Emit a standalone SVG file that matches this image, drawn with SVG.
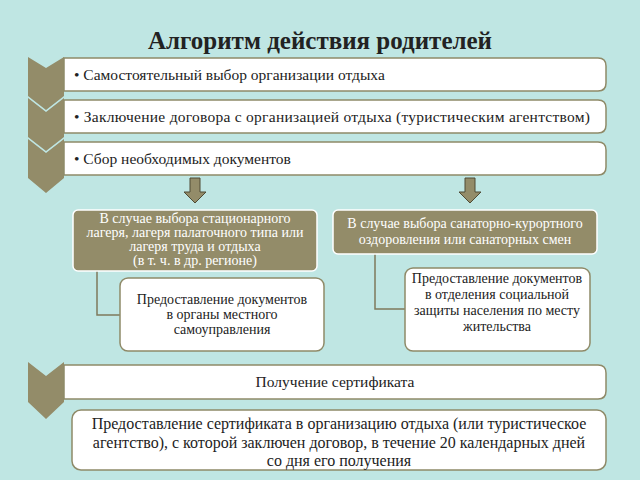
<svg xmlns="http://www.w3.org/2000/svg" width="640" height="480" viewBox="0 0 640 480" font-family="Liberation Serif, Tinos, DejaVu Serif, serif">
<defs>
<style>
text{font-family:"Liberation Serif",Tinos,"DejaVu Serif",serif}
.t{fill:#222}
.w{fill:#fff;font-size:14px;text-anchor:middle}
.box{fill:#fff;stroke:#8f8a68;stroke-width:1.5}
.ol{fill:#938c69;stroke:#fff;stroke-width:1.5}
.chev{fill:#938c69}
.arr{fill:#938c69;stroke:#4f4b35;stroke-width:1}
</style>
</defs>
<rect width="640" height="480" fill="#bfe6e3"/>
<text class="t" x="320" y="49" font-size="25" font-weight="bold" text-anchor="middle">Алгоритм действия родителей</text>
<g id="chevrons">
<polygon class="chev" points="28,57 46,68 64,57 64,96 46,110 28,96"/>
<polygon class="chev" points="28,98 46,112 64,98 64,137 46,151 28,137"/>
<polygon class="chev" points="28,139 46,153 64,139 64,178 46,193 28,178"/>
<polygon class="chev" points="28,362 46,376 64,362 64,402 46,419 28,402"/>
</g>
<g id="step1"><path class="box" d="M64,58 H598 Q606,58 606,66 V83 Q606,91 598,91 H64 Z"/>
<text class="t" x="74" y="80" font-size="15.5">• Самостоятельный выбор организации отдыха</text></g>
<g id="step2"><path class="box" d="M64,100 H598 Q606,100 606,108 V125 Q606,133 598,133 H64 Z"/>
<text class="t" x="74" y="122" font-size="15.5" textLength="516" lengthAdjust="spacing">• Заключение договора с организацией отдыха (туристическим агентством)</text></g>
<g id="step3"><path class="box" d="M64,142 H598 Q606,142 606,150 V167 Q606,175 598,175 H64 Z"/>
<text class="t" x="74" y="164" font-size="15.5">• Сбор необходимых документов</text></g>
<g id="arrows">
<polygon class="arr" points="190,178 200,178 200,192 206,192 195,203 184,192 190,192"/>
<polygon class="arr" points="465,178 475,178 475,192 481,192 470,203 459,192 465,192"/>
</g>
<g id="connectors" fill="none" stroke="#7f7a5c" stroke-width="1.5">
<polyline points="97,270 97,315 120,315"/>
<polyline points="375,253 375,309 405,309"/>
</g>
<g id="caseA"><rect class="ol" x="73" y="210" width="244" height="61" rx="5"/>
<text class="w" x="195" y="223">В случае выбора стационарного</text>
<text class="w" x="195" y="237">лагеря, лагеря палаточного типа или</text>
<text class="w" x="195" y="251">лагеря труда и отдыха</text>
<text class="w" x="195" y="265">(в т. ч. в др. регионе)</text></g>
<g id="caseB"><rect class="ol" x="333" y="210" width="264" height="44" rx="5"/>
<text class="w" x="465" y="228">В случае выбора санаторно-курортного</text>
<text class="w" x="465" y="244">оздоровления или санаторных  смен</text></g>
<g id="docsA"><rect class="box" x="120" y="278" width="204" height="73" rx="8"/>
<text class="t" x="222" y="304" font-size="14" text-anchor="middle">Предоставление  документов</text>
<text class="t" x="222" y="319" font-size="14" text-anchor="middle">в органы местного</text>
<text class="t" x="222" y="334" font-size="14" text-anchor="middle">самоуправления</text></g>
<g id="docsB"><rect class="box" x="405" y="268" width="185" height="83" rx="8"/>
<text class="t" x="497" y="283" font-size="14" text-anchor="middle">Предоставление  документов</text>
<text class="t" x="497" y="299" font-size="14" text-anchor="middle">в отделения социальной</text>
<text class="t" x="497" y="315" font-size="14" text-anchor="middle">защиты населения  по месту</text>
<text class="t" x="497" y="331" font-size="14" text-anchor="middle">жительства</text></g>
<g id="cert"><path class="box" d="M64,365 H598 Q606,365 606,373 V391 Q606,399 598,399 H64 Z"/>
<text class="t" x="335" y="387" font-size="15.5" text-anchor="middle">Получение сертификата</text></g>
<g id="final"><rect class="box" x="72" y="410" width="534" height="60" rx="9"/>
<text class="t" x="339" y="429" font-size="16" text-anchor="middle">Предоставление сертификата в организацию отдыха (или туристическое</text>
<text class="t" x="339" y="448" font-size="16" text-anchor="middle">агентство), с которой заключен договор, в течение 20 календарных дней</text>
<text class="t" x="339" y="466" font-size="16" text-anchor="middle">со дня его получения</text></g>
</svg>
